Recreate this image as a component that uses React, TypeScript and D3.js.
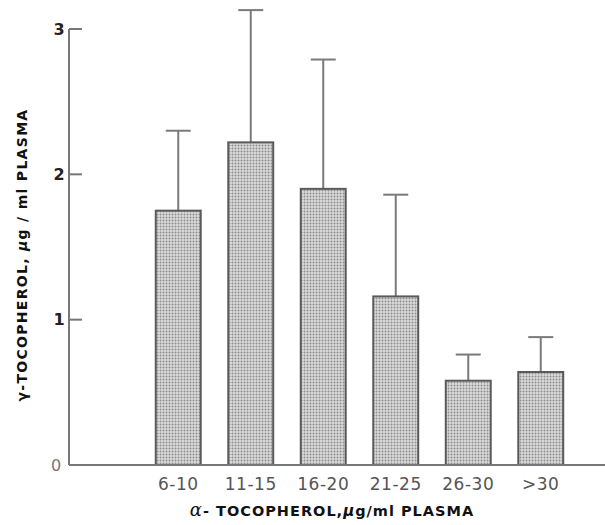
import React from 'react';
import * as d3 from 'd3';

// alpha-tocopherol groups (x axis)
const groups = ['6-10', '11-15', '16-20', '21-25', '26-30', '>30'];
// mean gamma-tocopherol, ug/ml plasma
const means = [1.75, 2.22, 1.9, 1.16, 0.58, 0.64];
// mean + SD (top of error bar)
const upper = [2.3, 3.13, 2.79, 1.86, 0.76, 0.88];
const yTicks = [0, 1, 2, 3];

const W = 605;
const H = 525;

const App = () => {
  const y = d3.scaleLinear().domain([0, 3]).range([465, 29]);
  const x = d3.scaleBand<string>().domain(groups).range([142, 577]).paddingInner(0.38).paddingOuter(0.19);
  const bw = x.bandwidth();
  const font = '"DejaVu Sans", Verdana, sans-serif';

  return (
    <svg width={W} height={H} style={{ position: 'absolute', left: 0, top: 0, background: '#fff' }}>
      <defs>
        <pattern id="stip" width={3} height={3} patternUnits="userSpaceOnUse">
          <rect width={3} height={3} fill="#dcdcdc" />
          <circle cx={1.5} cy={1.5} r={1} fill="#8c8c8c" />
        </pattern>
      </defs>

      {/* error bars */}
      {groups.map((g, i) => {
        const cx = x(g)! + bw / 2;
        return (
          <g key={'e' + g} stroke="#7a7a7a" strokeWidth={2}>
            <line x1={cx} x2={cx} y1={y(means[i])} y2={y(upper[i])} />
            <line x1={cx - 12.5} x2={cx + 12.5} y1={y(upper[i])} y2={y(upper[i])} />
          </g>
        );
      })}

      {/* bars */}
      {groups.map((g, i) => (
        <rect
          key={g}
          x={x(g)}
          y={y(means[i])}
          width={bw}
          height={y(0) - y(means[i])}
          fill="url(#stip)"
          stroke="#5a5a5a"
          strokeWidth={2}
        />
      ))}

      {/* axes */}
      <line x1={69} x2={605} y1={y(0)} y2={y(0)} stroke="#777" strokeWidth={2} />
      <line x1={69} x2={69} y1={y(3)} y2={y(0)} stroke="#777" strokeWidth={2} />
      {yTicks.map(t => (
        <g key={t}>
          {t > 0 && <line x1={69} x2={82} y1={y(t)} y2={y(t)} stroke="#777" strokeWidth={2} />}
          <text
            x={t === 0 ? 56 : 59}
            y={y(t)}
            dy="0.35em"
            textAnchor="middle"
            fontFamily={font}
            fontWeight={t === 0 ? 'normal' : 'bold'}
            fontSize={16}
            fill={t === 0 ? '#777' : '#222'}
          >
            {t}
          </text>
        </g>
      ))}

      {groups.map(g => (
        <text
          key={'l' + g}
          x={x(g)! + bw / 2}
          y={490}
          textAnchor="middle"
          fontFamily={font}
          fontSize={17}
          fill="#555"
          letterSpacing={0.5}
        >
          {g}
        </text>
      ))}

      <text x={332} y={516} textAnchor="middle" fontFamily={font} fontWeight="bold" fontSize={14.5} fill="#111" letterSpacing={1}>
        <tspan fontStyle="italic" fontWeight="normal" fontSize={18} fontFamily='"DejaVu Serif", serif'>α</tspan>
        - TOCOPHEROL,
        <tspan fontStyle="italic" fontSize={15}>μ</tspan>g/ml PLASMA
      </text>

      <text
        transform="translate(27,255) rotate(-90)"
        textAnchor="middle"
        fontFamily={font}
        fontWeight="bold"
        fontSize={14}
        fill="#111"
        letterSpacing={1.3}
      >
        γ-TOCOPHEROL, <tspan fontStyle="italic">μ</tspan>g / ml PLASMA
      </text>
    </svg>
  );
};

export default App;
